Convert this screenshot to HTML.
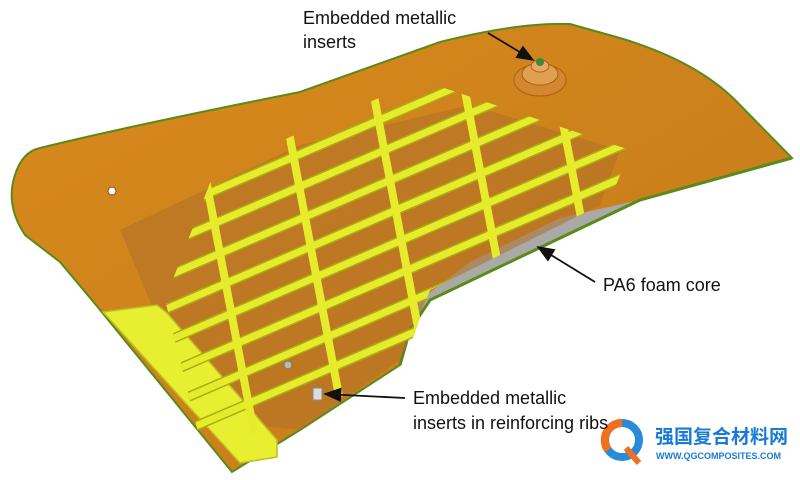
<!DOCTYPE html>
<html><head><meta charset="utf-8"><style>
html,body{margin:0;background:#fff;width:800px;height:480px;overflow:hidden}
body{position:relative;font-family:"Liberation Sans","Noto Sans CJK SC",sans-serif}
.t{position:absolute;font-size:18px;color:#111;line-height:24px;white-space:nowrap}
</style></head><body>
<svg width="800" height="480" style="position:absolute;left:0;top:0;overflow:hidden">
<defs>
<linearGradient id="pl" x1="0" y1="0" x2="1" y2="1">
<stop offset="0" stop-color="#d88a1c"/><stop offset="1" stop-color="#c47a1a"/></linearGradient>
<marker id="ah" markerWidth="10" markerHeight="8" refX="9" refY="4" orient="auto"><path d="M0,0 L10,4 L0,8 z" fill="#111"/></marker>
<clipPath id="gc"><path d="M165,300 L215,170 L420,80 L630,150 L610,200 L430,290 L405,360 L310,440 L200,440 Z"/></clipPath>
</defs>
<path d="M40,148 Q120,128 300,92 L440,42 Q520,22 570,24 L620,38 Q700,62 740,105 L792,158 L640,200 L430,300 L410,330 L400,365 L300,430 L232,472 L96,305 L60,262 L25,235 Q5,205 15,175 Q22,152 40,148 Z" fill="url(#pl)" stroke="#5a8a1a" stroke-width="2"/>
<path d="M640,200 L560,218 L470,262 L420,300 L403,348 L430,300 Z" fill="#a9a9a6"/>
<path d="M792,158 L640,200 L430,300 L410,330 L400,365" fill="none" stroke="#5a8a1a" stroke-width="3"/>
<path d="M120,230 L300,145 L470,105 L620,150 L600,205 L430,290 L400,360 L300,430 L200,420 Z" fill="#b0702a" opacity="0.55"/>
<circle cx="112" cy="191" r="4" fill="#fff" stroke="#7a5010"/>
<ellipse cx="540" cy="80" rx="26" ry="16" fill="#d4872e" stroke="#a8601a"/>
<ellipse cx="540" cy="74" rx="18" ry="11" fill="#e0a050" stroke="#a8601a"/>
<ellipse cx="540" cy="66" rx="9" ry="6" fill="#e6a862" stroke="#a8601a"/>
<circle cx="540" cy="62" r="4" fill="#3a8a3a"/>
<path d="M103,312 L157,305 L167,313 L277,440 L277,457 L240,463 Z" fill="#e8ee30" stroke="#bcc020" stroke-width="1.5"/>
<g clip-path="url(#gc)">
<g transform="matrix(1,-0.43,5.7,30,200,262)" fill="none">
<g stroke="#a9ad12">
<path vector-effect="non-scaling-stroke" stroke-width="10" d="M-40,-2 L420,-2 M-40,-1 L420,-1 M-40,0 L420,0 M-40,1 L420,1 M-40,2 L420,2 M-40,3 L420,3 M-40,4 L420,4 M-40,5 L420,5"/>
</g>
<g stroke="#e6ec2c">
<path vector-effect="non-scaling-stroke" stroke-width="7" d="M-40,-2 L420,-2 M-40,-1 L420,-1 M-40,0 L420,0 M-40,1 L420,1 M-40,2 L420,2 M-40,3 L420,3 M-40,4 L420,4 M-40,5 L420,5"/>
<path vector-effect="non-scaling-stroke" stroke-width="8" d="M20,-3.5 L20,6 M105,-3.5 L105,6 M190,-3.5 L190,6 M275,-3.5 L275,6 M360,-3.5 L360,6 M-60,-3.5 L-60,6"/>
</g>
</g>
</g>
<rect x="313" y="388" width="9" height="12" fill="#ddd" stroke="#888"/>
<circle cx="288" cy="365" r="4" fill="#bba" stroke="#776"/>
<line x1="488" y1="33" x2="533" y2="60" stroke="#111" stroke-width="1.8" marker-end="url(#ah)"/>
<line x1="595" y1="282" x2="538" y2="247" stroke="#111" stroke-width="1.8" marker-end="url(#ah)"/>
<line x1="405" y1="398" x2="325" y2="394" stroke="#111" stroke-width="1.8" marker-end="url(#ah)"/>
<circle cx="622" cy="440" r="17" fill="none" stroke="#2a8ad8" stroke-width="8"/>
<path d="M608,450 A17,17 0 0 1 622,423" fill="none" stroke="#f07020" stroke-width="8"/>
<path d="M626,448 L639,463" stroke="#f07020" stroke-width="6"/>
</svg>
<div class="t" style="left:303px;top:6px">Embedded metallic<br>inserts</div>
<div class="t" style="left:603px;top:273px">PA6 foam core</div>
<div class="t" style="left:413px;top:386px;line-height:25px">Embedded metallic<br>inserts in reinforcing ribs</div>
<div style="position:absolute;left:655px;top:427px;font-size:19px;font-weight:bold;color:#1a7ad8;line-height:22px;white-space:nowrap">强国复合材料网</div>
<div style="position:absolute;left:656px;top:451px;font-size:9px;font-weight:bold;color:#1a7ad8;line-height:11px;white-space:nowrap">WWW.QGCOMPOSITES.COM</div>
</body></html>
